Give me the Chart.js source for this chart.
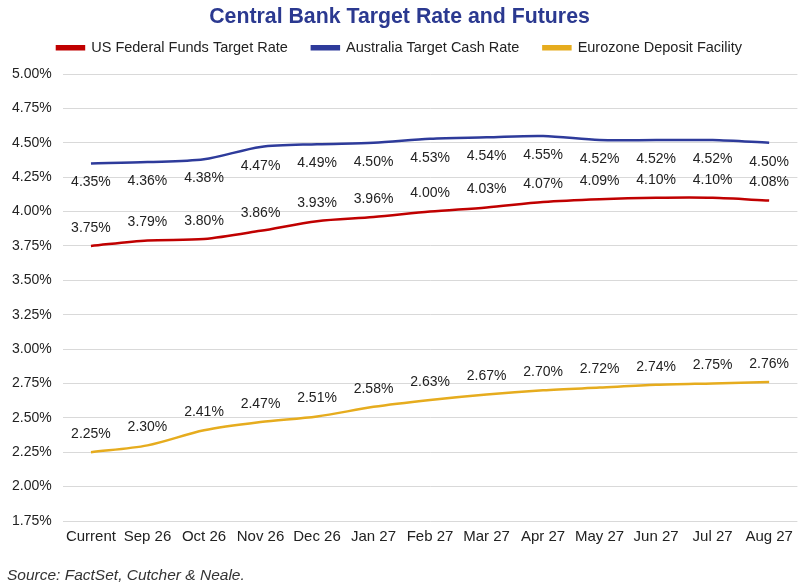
<!DOCTYPE html>
<html>
<head>
<meta charset="utf-8">
<script src="https://cdn.jsdelivr.net/npm/chart.js@4.4.1/dist/chart.umd.min.js"></script>
<style>
  html, body { margin: 0; padding: 0; background: #fff; }
  #wrap { width: 800px; height: 584px; }
</style>
</head>
<body>
<div id="wrap"><canvas id="canvas"></canvas></div>
<script>
// data
var months = ['Current', 'Sep 26', 'Oct 26', 'Nov 26', 'Dec 26', 'Jan 27', 'Feb 27', 'Mar 27', 'Apr 27', 'May 27', 'Jun 27', 'Jul 27', 'Aug 27'];
var usRate = [3.75, 3.79, 3.80, 3.86, 3.93, 3.96, 4.00, 4.03, 4.07, 4.09, 4.10, 4.10, 4.08];
var auRate = [4.35, 4.36, 4.38, 4.47, 4.49, 4.50, 4.53, 4.54, 4.55, 4.52, 4.52, 4.52, 4.50];
var euRate = [2.25, 2.30, 2.41, 2.47, 2.51, 2.58, 2.63, 2.67, 2.70, 2.72, 2.74, 2.75, 2.76];
var sourceNote = 'Source: FactSet, Cutcher & Neale.';

var FONT = "'Liberation Sans', Arial, sans-serif";

// value labels above/below each point, plus the source line
var pointLabels = {
  id: 'pointLabels',
  afterInit: function(chart) {
    // legend padding is used both ways; add a bit more space under it
    var lg = chart.legend;
    if (lg) {
      var fit = lg.fit;
      lg.fit = function() { fit.call(this); this.height += 9; };
    }
  },
  afterDatasetsDraw: function(chart) {
    var ctx = chart.ctx;
    ctx.save();
    ctx.font = '14px ' + FONT;
    ctx.fillStyle = '#222';
    ctx.textAlign = 'center';
    ctx.textBaseline = 'middle';
    chart.data.datasets.forEach(function(ds, i) {
      var meta = chart.getDatasetMeta(i);
      var dy = ds.labelPos == 'below' ? 19 : -18;
      meta.data.forEach(function(pt, j) {
        ctx.fillText(ds.data[j].toFixed(2) + '%', pt.x, pt.y + dy);
      });
    });
    // source note, bottom left
    ctx.font = 'italic 15.5px ' + FONT;
    ctx.fillStyle = '#333';
    ctx.textAlign = 'left';
    ctx.fillText(sourceNote, 7, chart.height - 8);
    ctx.restore();
  }
};

const ctx = document.getElementById('canvas').getContext('2d');
const myChart = new Chart(ctx, {
  type: 'line',
  data: {
    labels: months,
    datasets: [{
      label: 'US Federal Funds Target Rate',
      data: usRate,
      borderColor: '#C00000',
      backgroundColor: '#C00000',
      labelPos: 'above'
    }, {
      label: 'Australia Target Cash Rate',
      data: auRate,
      borderColor: '#2E3B9B',
      backgroundColor: '#2E3B9B',
      labelPos: 'below'
    }, {
      label: 'Eurozone Deposit Facility',
      data: euRate,
      borderColor: '#E6AC1E',
      backgroundColor: '#E6AC1E',
      labelPos: 'above'
    }]
  },
  options: {
    responsive: true,
    maintainAspectRatio: false,
    animation: false,
    layout: { padding: { left: 1, right: 2, top: 2, bottom: 31 } },
    elements: {
      line: { tension: 0.3, borderWidth: 2.5, fill: false },
      point: { radius: 0 }
    },
    plugins: {
      title: {
        display: true,
        text: 'Central Bank Target Rate and Futures',
        color: '#2B3990',
        font: { family: FONT, size: 21.3, weight: 'bold' },
        padding: { top: 2, bottom: -13 }
      },
      legend: {
        labels: {
          color: '#222',
          font: { family: FONT, size: 14.5 },
          boxWidth: 27,
          boxHeight: 3,
          padding: 24
        }
      },
      tooltip: { enabled: false }
    },
    scales: {
      x: {
        offset: true,
        grid: { display: false, drawTicks: false },
        border: { display: false },
        ticks: { color: '#222', font: { family: FONT, size: 15 }, padding: 7, maxRotation: 0, autoSkip: false }
      },
      y: {
        min: 1.75,
        max: 5.0,
        grid: { color: '#D9D9D9', drawTicks: false },
        border: { display: false },
        ticks: {
          stepSize: 0.25,
          padding: 11,
          color: '#222',
          font: { family: FONT, size: 14 },
          callback: function(v) { return v.toFixed(2) + '%'; }
        }
      }
    }
  },
  plugins: [pointLabels]
});
</script>
</body>
</html>
